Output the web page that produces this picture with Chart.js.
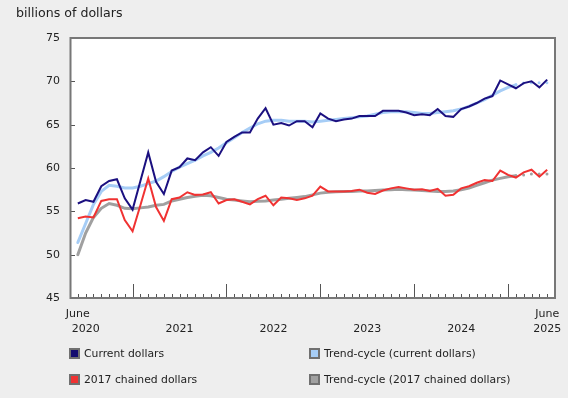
<!DOCTYPE html>
<html>
<head>
<meta charset="utf-8">
<script src="https://cdn.jsdelivr.net/npm/chart.js@4"></script>
<style>
  html, body { margin: 0; padding: 0; background: #eeeeee; }
  #wrap { position: relative; width: 568px; height: 398px; font-family: "DejaVu Sans", Verdana, sans-serif; color: #222; }
  #title { position: absolute; left: 16px; top: 5px; font-size: 12.6px; line-height: 15px; }
  .leg { position: absolute; display: flex; align-items: center; font-size: 10.8px; line-height: 13px; }
  .leg span.box { display: inline-block; width: 11px; height: 11px; box-sizing: border-box; border: 2px solid #707070; margin-right: 4px; }
</style>
</head>
<body>
<div id="wrap">
  <canvas id="c" width="568" height="398"></canvas>
  <div id="title">billions of dollars</div>
  <div class="leg" style="left:69px; top:347px"><span class="box" style="background:#140c70"></span>Current dollars</div>
  <div class="leg" style="left:309px; top:347px"><span class="box" style="background:#a6cdf6"></span>Trend-cycle (current dollars)</div>
  <div class="leg" style="left:69px; top:373px"><span class="box" style="background:#f03232"></span>2017 chained dollars</div>
  <div class="leg" style="left:309px; top:373px"><span class="box" style="background:#a0a0a0"></span>Trend-cycle (2017 chained dollars)</div>
</div>
<script>
// mois, juin 2020 a juin 2025
const months = [
  "2020-06","2020-07","2020-08","2020-09","2020-10","2020-11","2020-12",
  "2021-01","2021-02","2021-03","2021-04","2021-05","2021-06","2021-07","2021-08","2021-09","2021-10","2021-11","2021-12",
  "2022-01","2022-02","2022-03","2022-04","2022-05","2022-06","2022-07","2022-08","2022-09","2022-10","2022-11","2022-12",
  "2023-01","2023-02","2023-03","2023-04","2023-05","2023-06","2023-07","2023-08","2023-09","2023-10","2023-11","2023-12",
  "2024-01","2024-02","2024-03","2024-04","2024-05","2024-06","2024-07","2024-08","2024-09","2024-10","2024-11","2024-12",
  "2025-01","2025-02","2025-03","2025-04","2025-05","2025-06"
];

const currentDollars = [
  55.9, 56.3, 56.1, 57.9, 58.5, 58.7, 56.5, 55.2, 58.5, 61.8,
  58.4, 57.0, 59.7, 60.1, 61.1, 60.9, 61.8, 62.4, 61.4, 63.0,
  63.6, 64.1, 64.1, 65.7, 66.9, 65.0, 65.2, 64.9, 65.4, 65.4,
  64.7, 66.3, 65.7, 65.4, 65.6, 65.7, 66.0, 66.0, 66.0, 66.6,
  66.6, 66.6, 66.4, 66.1, 66.2, 66.1, 66.8, 66.0, 65.9, 66.8,
  67.1, 67.5, 68.0, 68.3, 70.1, 69.65, 69.2, 69.8, 70.0, 69.3,
  70.2
];

const chainedDollars = [
  54.2, 54.4, 54.3, 56.2, 56.4, 56.4, 54.0, 52.7, 55.7, 58.8,
  55.5, 53.9, 56.4, 56.6, 57.2, 56.9, 56.95, 57.2, 55.9, 56.3,
  56.4, 56.1, 55.8, 56.4, 56.8, 55.7, 56.6, 56.5, 56.3, 56.5,
  56.8, 57.85, 57.3, 57.3, 57.3, 57.35, 57.5, 57.15, 57.0, 57.4,
  57.65, 57.8, 57.65, 57.5, 57.55, 57.35, 57.6, 56.8, 56.9, 57.65,
  57.9, 58.3, 58.6, 58.5, 59.7, 59.2, 58.9, 59.5, 59.8, 59.0,
  59.8
];

const trendCurrent = [
  51.4, 53.6, 55.8, 57.3, 58.0, 57.9, 57.7, 57.7, 57.9, 58.2,
  58.5, 59.0, 59.6, 60.1, 60.5, 60.9, 61.4, 61.8, 62.3, 62.9,
  63.5, 64.1, 64.6, 65.1, 65.4, 65.5, 65.5, 65.4, 65.4, 65.4,
  65.3, 65.4, 65.5, 65.6, 65.7, 65.8, 65.9, 66.0, 66.2, 66.4,
  66.5, 66.5, 66.5, 66.4, 66.3, 66.3, 66.4, 66.5, 66.6, 66.8,
  67.1, 67.5, 67.9, 68.4, 68.9, 69.3, 69.6, 69.8, 69.85, 69.85,
  69.85
];

const trendChained = [
  50.0, 52.5, 54.3, 55.35, 55.9, 55.7, 55.35, 55.3, 55.4, 55.5,
  55.7, 55.8, 56.2, 56.4, 56.6, 56.75, 56.85, 56.8, 56.6, 56.4,
  56.3, 56.2, 56.1, 56.15, 56.2, 56.3, 56.4, 56.5, 56.6, 56.7,
  56.9, 57.1, 57.2, 57.25, 57.3, 57.3, 57.35, 57.35, 57.4, 57.45,
  57.5, 57.55, 57.5, 57.45, 57.4, 57.35, 57.3, 57.3, 57.35, 57.5,
  57.7, 58.0, 58.3, 58.6, 58.8, 59.0, 59.1, 59.2, 59.3, 59.3,
  59.3
];

const yTicks = [45, 50, 55, 60, 65, 70, 75];
// libelles de l'axe x : [mois, ligne du haut, ligne du bas]
const xLabels = [
  ["2020-06", "June", ""],
  ["2020-07", "", "2020"],
  ["2021-07", "", "2021"],
  ["2022-07", "", "2022"],
  ["2023-07", "", "2023"],
  ["2024-07", "", "2024"],
  ["2025-06", "June", "2025"]
];
const trendFrom = "2025-01"; // debut de la partie pointillee de la tendance

const FONT = '"DejaVu Sans", Verdana, sans-serif';
const toXY = arr => arr.map((v, i) => ({ x: i, y: v }));
const dashStart = months.indexOf(trendFrom) + 1;
const dotted = ctx => ctx.p0DataIndex >= dashStart ? [0, 7.8] : undefined;

// fond blanc, cadre, graduations et libelles de l'axe x
const framePlugin = {
  id: "frame",
  beforeDatasetsDraw(chart) {
    const { ctx, chartArea: a } = chart;
    ctx.save();
    ctx.fillStyle = "#ffffff";
    ctx.fillRect(a.left, a.top, a.right - a.left, a.bottom - a.top);
    ctx.restore();
  },
  afterDatasetsDraw(chart) {
    const { ctx, chartArea: a } = chart;
    const xs = chart.scales.x, ys = chart.scales.y;
    ctx.save();
    ctx.strokeStyle = "#555";
    ctx.lineWidth = 1;
    ctx.beginPath();
    months.forEach((m, i) => {
      const x = Math.round(xs.getPixelForValue(i)) + 0.5;
      const len = m.endsWith("-01") ? 14 : 4;
      ctx.moveTo(x, a.bottom);
      ctx.lineTo(x, a.bottom - len);
    });
    yTicks.slice(1, -1).forEach(v => {
      const y = Math.round(ys.getPixelForValue(v)) + 0.5;
      ctx.moveTo(a.left, y);
      ctx.lineTo(a.left + 5, y);
    });
    ctx.stroke();

    ctx.strokeStyle = "#777";
    ctx.lineWidth = 2;
    ctx.strokeRect(a.left + 0.5, a.top, a.right - a.left - 0.5, a.bottom - a.top);

    ctx.fillStyle = "#222";
    ctx.font = "11px " + FONT;
    ctx.textAlign = "center";
    ctx.textBaseline = "middle";
    xLabels.forEach(([m, top, bottom]) => {
      const x = xs.getPixelForValue(months.indexOf(m));
      if (top) ctx.fillText(top, x, a.bottom + 16);
      if (bottom) ctx.fillText(bottom, x, a.bottom + 31);
    });
    ctx.restore();
  }
};

new Chart(document.getElementById("c"), {
  type: "line",
  data: {
    datasets: [
      {
        label: "Trend-cycle (2017 chained dollars)",
        data: toXY(trendChained),
        borderColor: "#a0a0a0",
        borderWidth: 3,
        segment: { borderDash: dotted },
        borderCapStyle: "round",
        order: 4
      },
      {
        label: "Trend-cycle (current dollars)",
        data: toXY(trendCurrent),
        borderColor: "#a6cdf6",
        borderWidth: 3,
        segment: { borderDash: dotted },
        borderCapStyle: "round",
        order: 3
      },
      {
        label: "2017 chained dollars",
        data: toXY(chainedDollars),
        borderColor: "#f03232",
        borderWidth: 2,
        order: 2
      },
      {
        label: "Current dollars",
        data: toXY(currentDollars),
        borderColor: "#1b1080",
        borderWidth: 2,
        order: 1
      }
    ]
  },
  options: {
    responsive: false,
    animation: false,
    pointRadius: 0,
    elements: { point: { radius: 0 }, line: { tension: 0 } },
    layout: { padding: { left: 0, right: 13, top: 38, bottom: 100 } },
    plugins: { legend: { display: false }, tooltip: { enabled: false } },
    scales: {
      x: { type: "linear", display: false, min: -1, max: 61 },
      y: {
        min: 45, max: 75,
        afterBuildTicks: s => { s.ticks = yTicks.map(v => ({ value: v })); },
        afterFit: s => { s.width = 70; },
        grid: { display: false, drawTicks: false },
        border: { display: false },
        ticks: { padding: 10, color: "#222", font: { family: FONT, size: 11 } }
      }
    }
  },
  plugins: [framePlugin]
});
</script>
</body>
</html>
